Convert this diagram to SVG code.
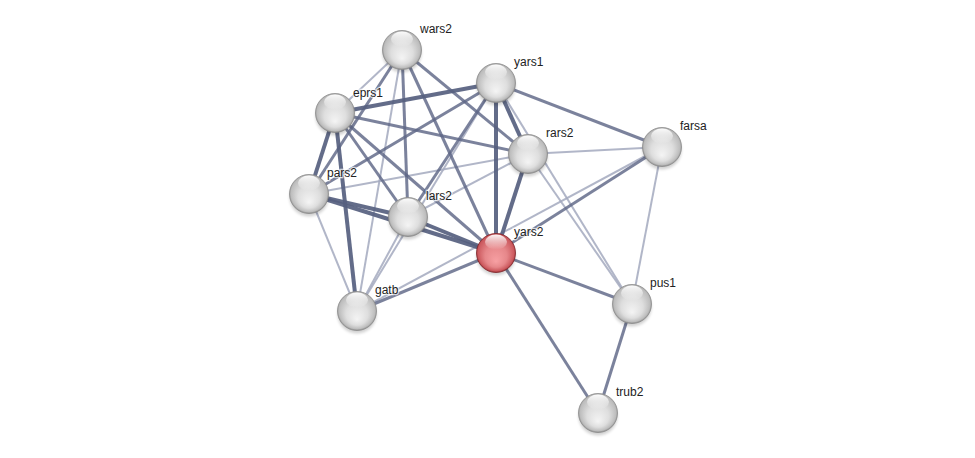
<svg xmlns="http://www.w3.org/2000/svg" width="975" height="458" viewBox="0 0 975 458">
<defs>
<radialGradient id="gw" cx="0.5" cy="0.45" r="0.56" fx="0.5" fy="0.72">
<stop offset="0" stop-color="#f4f4f4"/>
<stop offset="0.5" stop-color="#dedede"/>
<stop offset="0.82" stop-color="#bdbdbd"/>
<stop offset="1" stop-color="#7e7e7e"/>
</radialGradient>
<radialGradient id="gr" cx="0.5" cy="0.45" r="0.56" fx="0.5" fy="0.72">
<stop offset="0" stop-color="#f7a0a3"/>
<stop offset="0.5" stop-color="#e6878a"/>
<stop offset="0.82" stop-color="#cc5a5f"/>
<stop offset="1" stop-color="#8f2429"/>
</radialGradient>
<linearGradient id="hl" x1="0" y1="0" x2="0" y2="1">
<stop offset="0" stop-color="#ffffff" stop-opacity="0.95"/>
<stop offset="1" stop-color="#ffffff" stop-opacity="0"/>
</linearGradient>
<filter id="sh" x="-30%" y="-30%" width="160%" height="170%">
<feGaussianBlur stdDeviation="1.5"/>
</filter>
</defs>
<style>
.s{stroke:#56607f;stroke-width:4;stroke-opacity:0.92;fill:none}
.m{stroke:#5e6786;stroke-width:3;stroke-opacity:0.82;fill:none}
.l{stroke:#a3a9be;stroke-width:2;stroke-opacity:0.85;fill:none}
.w{fill:url(#gw);stroke:#8c8c8c;stroke-width:0.8}
.r{fill:url(#gr);stroke:#7e2227;stroke-width:0.8}
.h{fill:url(#hl)}
.sd{fill:#000;opacity:0.18;filter:url(#sh)}
text{font-family:"Liberation Sans",Arial,sans-serif;font-size:12px;fill:#222;stroke:#ffffff;stroke-width:2.5;stroke-opacity:0.7;paint-order:stroke}
</style>
<rect width="975" height="458" fill="#ffffff"/>
<g id="edges">
<line class="l" x1="402" y1="50" x2="335" y2="113"/>
<line class="l" x1="402" y1="50" x2="357" y2="311"/>
<line class="l" x1="496" y1="83" x2="357" y2="311"/>
<line class="l" x1="496" y1="83" x2="632" y2="304"/>
<line class="l" x1="309" y1="194" x2="357" y2="311"/>
<line class="l" x1="309" y1="194" x2="528" y2="154"/>
<line class="l" x1="408" y1="217" x2="357" y2="311"/>
<line class="l" x1="408" y1="217" x2="528" y2="154"/>
<line class="l" x1="357" y1="311" x2="662" y2="147"/>
<line class="l" x1="528" y1="154" x2="662" y2="147"/>
<line class="l" x1="528" y1="154" x2="632" y2="304"/>
<line class="l" x1="662" y1="147" x2="632" y2="304"/>
<line class="m" x1="402" y1="50" x2="309" y2="194"/>
<line class="m" x1="402" y1="50" x2="408" y2="217"/>
<line class="m" x1="402" y1="50" x2="496" y2="253"/>
<line class="m" x1="402" y1="50" x2="528" y2="154"/>
<line class="m" x1="496" y1="83" x2="662" y2="147"/>
<line class="m" x1="496" y1="83" x2="309" y2="194"/>
<line class="m" x1="496" y1="83" x2="408" y2="217"/>
<line class="m" x1="335" y1="113" x2="408" y2="217"/>
<line class="m" x1="335" y1="113" x2="496" y2="253"/>
<line class="m" x1="335" y1="113" x2="528" y2="154"/>
<line class="m" x1="496" y1="253" x2="662" y2="147"/>
<line class="m" x1="496" y1="253" x2="632" y2="304"/>
<line class="m" x1="496" y1="253" x2="598" y2="413"/>
<line class="m" x1="496" y1="253" x2="357" y2="311"/>
<line class="m" x1="632" y1="304" x2="598" y2="413"/>
<line class="s" x1="496" y1="83" x2="335" y2="113"/>
<line class="s" x1="496" y1="83" x2="496" y2="253"/>
<line class="s" x1="496" y1="83" x2="528" y2="154"/>
<line class="s" x1="335" y1="113" x2="309" y2="194"/>
<line class="s" x1="335" y1="113" x2="357" y2="311"/>
<line class="s" x1="309" y1="194" x2="408" y2="217"/>
<line class="s" x1="309" y1="194" x2="496" y2="253"/>
<line class="s" x1="408" y1="217" x2="496" y2="253"/>
<line class="s" x1="496" y1="253" x2="528" y2="154"/>
</g>
<g id="wars2"><circle class="sd" cx="402" cy="53" r="19.5"/><circle class="w" cx="402" cy="50" r="19.5"/><ellipse class="h" cx="402" cy="39" rx="11" ry="7.5"/><text x="420" y="33">wars2</text></g>
<g id="yars1"><circle class="sd" cx="496" cy="86" r="19.5"/><circle class="w" cx="496" cy="83" r="19.5"/><ellipse class="h" cx="496" cy="72" rx="11" ry="7.5"/><text x="514" y="66">yars1</text></g>
<g id="eprs1"><circle class="sd" cx="335" cy="116" r="19.5"/><circle class="w" cx="335" cy="113" r="19.5"/><ellipse class="h" cx="335" cy="102" rx="11" ry="7.5"/><text x="353" y="97">eprs1</text></g>
<g id="rars2"><circle class="sd" cx="528" cy="157" r="19.5"/><circle class="w" cx="528" cy="154" r="19.5"/><ellipse class="h" cx="528" cy="143" rx="11" ry="7.5"/><text x="546" y="137">rars2</text></g>
<g id="farsa"><circle class="sd" cx="662" cy="150" r="19.5"/><circle class="w" cx="662" cy="147" r="19.5"/><ellipse class="h" cx="662" cy="136" rx="11" ry="7.5"/><text x="680" y="130">farsa</text></g>
<g id="pars2"><circle class="sd" cx="309" cy="197" r="19.5"/><circle class="w" cx="309" cy="194" r="19.5"/><ellipse class="h" cx="309" cy="183" rx="11" ry="7.5"/><text x="327" y="177">pars2</text></g>
<g id="lars2"><circle class="sd" cx="408" cy="220" r="19.5"/><circle class="w" cx="408" cy="217" r="19.5"/><ellipse class="h" cx="408" cy="206" rx="11" ry="7.5"/><text x="426" y="200">lars2</text></g>
<g id="yars2"><circle class="sd" cx="496" cy="256" r="19.5"/><circle class="r" cx="496" cy="253" r="19.5"/><ellipse class="h" cx="496" cy="242" rx="11" ry="7.5"/><text x="514" y="236">yars2</text></g>
<g id="gatb"><circle class="sd" cx="357" cy="314" r="19.5"/><circle class="w" cx="357" cy="311" r="19.5"/><ellipse class="h" cx="357" cy="300" rx="11" ry="7.5"/><text x="375" y="294">gatb</text></g>
<g id="pus1"><circle class="sd" cx="632" cy="307" r="19.5"/><circle class="w" cx="632" cy="304" r="19.5"/><ellipse class="h" cx="632" cy="293" rx="11" ry="7.5"/><text x="650" y="287">pus1</text></g>
<g id="trub2"><circle class="sd" cx="598" cy="416" r="19.5"/><circle class="w" cx="598" cy="413" r="19.5"/><ellipse class="h" cx="598" cy="402" rx="11" ry="7.5"/><text x="616" y="396">trub2</text></g>
</svg>
